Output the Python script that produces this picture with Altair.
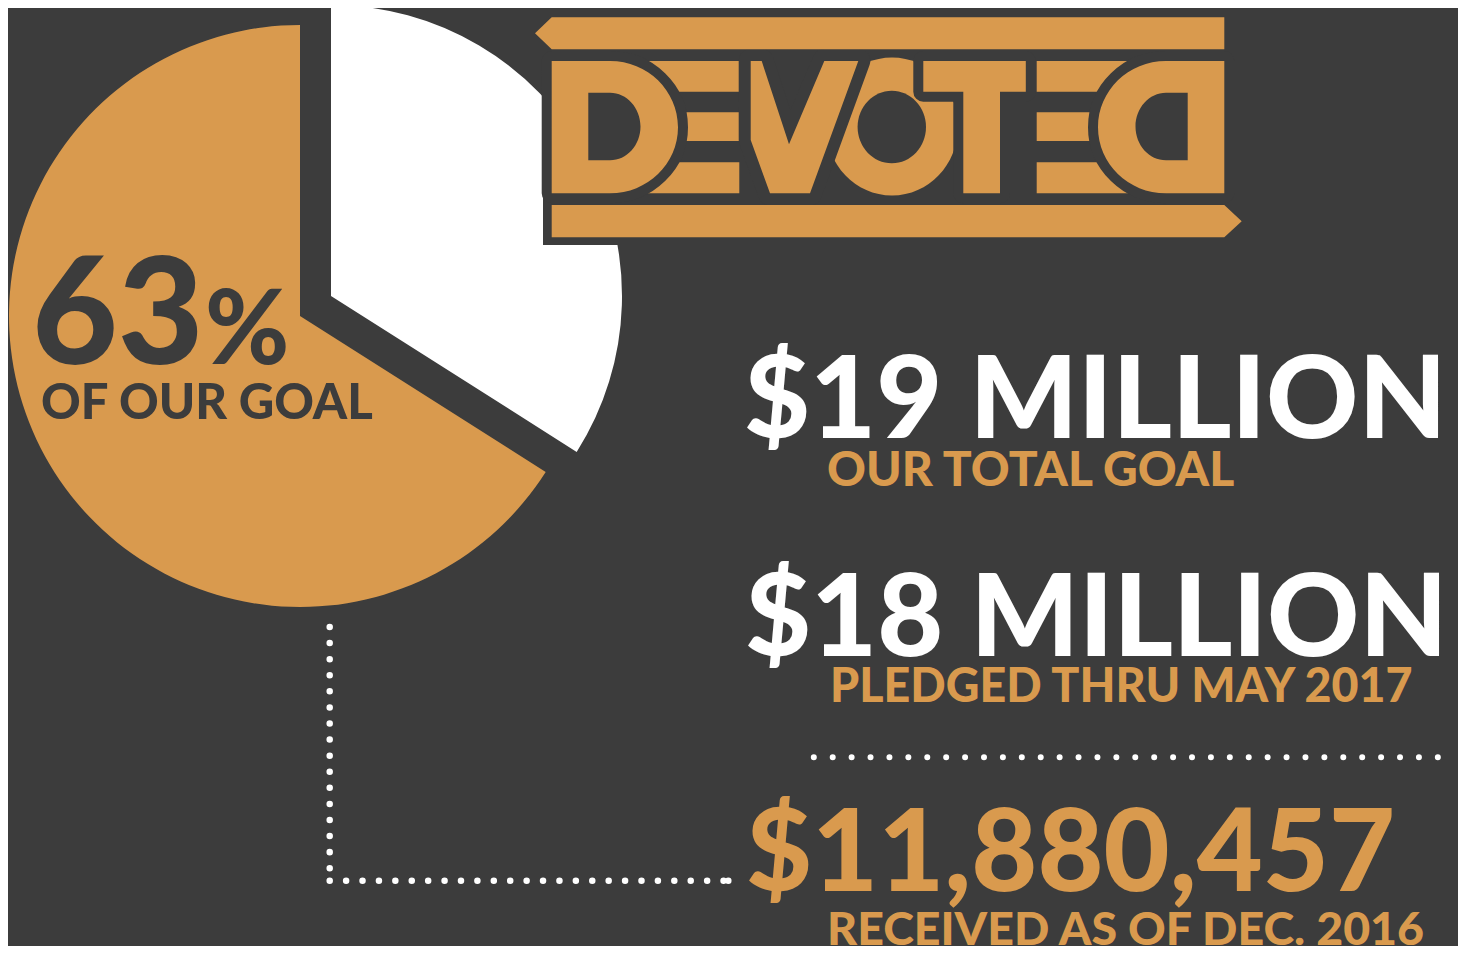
import math
import altair as alt
import pandas as pd

# ---------------- data ----------------
PIE_PARTS = ["Remaining", "Received"]
PIE_SHARES = [34, 66]            # share of the circle as drawn (%)
PIE_ORDER = [0, 1]
HEADLINE = ["63", "%", "OF OUR GOAL"]
FIGURES = ["$19 MILLION", "$18 MILLION", "$11,880,457"]
CAPTIONS = ["OUR TOTAL GOAL", "PLEDGED THRU MAY 2017", "RECEIVED AS OF DEC. 2016"]
LOGO_WORD = "DEVOTED"

# ---------------- style / layout ----------------
DARK = "#3c3c3c"
ORANGE = "#d99a4e"
WHITE = "#ffffff"
FONT = "Lato"

W, H = 1450, 938
XS = alt.Scale(domain=[8, 8 + W], nice=False, zero=False)
YS = alt.Scale(domain=[8, 8 + H], reverse=True, nice=False, zero=False)
TS = alt.Scale(domain=[0, 100], range=[0, 2 * math.pi])


def X(v):
    return alt.XDatum(v, type="quantitative", scale=XS, axis=None)


def Y(v):
    return alt.YDatum(v, type="quantitative", scale=YS, axis=None)


layers = []

# ---------------- pie (exploded) ----------------
pie_df = pd.DataFrame({"part": PIE_PARTS, "share": PIE_SHARES, "order": PIE_ORDER})
pie_base = alt.Chart(pie_df).transform_stack(
    stack="share", groupby=[], as_=["start", "end"],
    sort=[alt.SortField("order", order="ascending")],
)
PIE_LAYOUT = {"Received": (300, 316, ORANGE), "Remaining": (331, 296, WHITE)}
for part in PIE_PARTS[::-1]:
    cx, cy, col = PIE_LAYOUT[part]
    layers.append(
        pie_base.transform_filter(alt.datum.part == part)
        .mark_arc(radius=291, color=col, strokeWidth=0)
        .encode(theta=alt.Theta("start:Q", scale=TS, stack=None),
                theta2="end:Q", x=X(cx), y=Y(cy))
    )

# ---------------- logo (drawn as shapes) ----------------
LX, LY = 888.0, 127.0
K = 0.5523


def f(v):
    return f"{v:.1f}"


def poly(pts):
    s = "M" + " L".join(f"{f(x - LX)},{f(y - LY)}" for x, y in pts)
    return s + " Z"


def rect(x0, y0, x1, y1):
    return poly([(x0, y0), (x1, y0), (x1, y1), (x0, y1)])


def ellipse(cx, cy, rx, ry):
    cx -= LX
    cy -= LY
    p = [f"M{f(cx)},{f(cy - ry)}",
         f"C{f(cx + K*rx)},{f(cy - ry)} {f(cx + rx)},{f(cy - K*ry)} {f(cx + rx)},{f(cy)}",
         f"C{f(cx + rx)},{f(cy + K*ry)} {f(cx + K*rx)},{f(cy + ry)} {f(cx)},{f(cy + ry)}",
         f"C{f(cx - K*rx)},{f(cy + ry)} {f(cx - rx)},{f(cy + K*ry)} {f(cx - rx)},{f(cy)}",
         f"C{f(cx - rx)},{f(cy - K*ry)} {f(cx - K*rx)},{f(cy - ry)} {f(cx)},{f(cy - ry)}",
         "Z"]
    return " ".join(p)


def dshape(x0, xs, rx, top, bot):
    cy = (top + bot) / 2 - LY
    ry = (bot - top) / 2
    x0 -= LX
    xs -= LX
    t = top - LY
    b = bot - LY
    return (f"M{f(x0)},{f(t)} L{f(xs)},{f(t)} "
            f"C{f(xs + K*rx)},{f(t)} {f(xs + rx)},{f(cy - K*ry)} {f(xs + rx)},{f(cy)} "
            f"C{f(xs + rx)},{f(cy + K*ry)} {f(xs + K*rx)},{f(b)} {f(xs)},{f(b)} "
            f"L{f(x0)},{f(b)} Z")


def mirror(x):
    return 2 * LX - x


TOP, BOT = 61.0, 193.3
backing = rect(543, -20, 1262, 245)
bars = " ".join([
    poly([(535, 33.3), (551.7, 17.3), (1224.3, 17.3), (1224.3, 49.3), (551.7, 49.3)]),
    poly([(551.7, 205), (1224.3, 205), (1241.7, 221.2), (1224.3, 237.3), (551.7, 237.3)]),
])
ebars = []
for (y0, y1) in [(TOP, 91.7), (112.3, 141.0), (162.3, BOT)]:
    ebars.append(rect(600, y0, 739.3, y1))
    ebars.append(rect(mirror(739.3), y0, mirror(600), y1))
ebars = " ".join(ebars)
d_outer = " ".join([dshape(551.7, 610, 68, TOP, BOT),
                    dshape(mirror(551.7), mirror(610), -68, TOP, BOT)])
d_inner = " ".join([dshape(588.3, 610, 30.5, 92.7, 160.3),
                    dshape(mirror(588.3), mirror(610), -30.5, 92.7, 160.3)])
o_outer = ellipse(892, 126.5, 66, 69)
o_inner = ellipse(891.8, 127, 34.2, 36.3)
v_shape = poly([(750.7, TOP), (761.7, TOP), (789, 144.3), (824.3, TOP), (858.3, TOP),
                (810, BOT), (770, BOT), (750.7, 140)])
t_shape = poly([(923.3, TOP), (1025.8, TOP), (1025.8, 91.7), (1000, 91.7), (1000, BOT),
                (963.3, BOT), (963.3, 91.7), (923.3, 91.7)])

logo_df = pd.DataFrame({"word": [LOGO_WORD]})


def shape_layer(path, fill, stroke=None, sw=0):
    kw = dict(shape=path, size=4, filled=True, fill=fill, opacity=1, fillOpacity=1,
              description=LOGO_WORD)
    if stroke:
        kw.update(stroke=stroke, strokeWidth=sw, strokeJoin="round", strokeOpacity=1)
    else:
        kw.update(strokeWidth=0)
    return alt.Chart(logo_df).mark_point(**kw).encode(x=X(LX), y=Y(LY))


layers += [
    shape_layer(backing, DARK),
    shape_layer(ebars, ORANGE),
    shape_layer(d_outer, DARK, DARK, 20),
    shape_layer(d_outer, ORANGE),
    shape_layer(d_inner, DARK),
    shape_layer(o_outer, ORANGE),
    shape_layer(o_inner, DARK),
    shape_layer(v_shape, DARK, DARK, 24),
    shape_layer(v_shape, ORANGE),
    shape_layer(t_shape, DARK, DARK, 20),
    shape_layer(t_shape, ORANGE),
    shape_layer(bars, ORANGE),
]

# ---------------- dotted connectors ----------------
def hrule(x0, x1, y, gap, w):
    return alt.Chart(logo_df).mark_rule(color=WHITE, strokeWidth=w, strokeCap="round",
                                        strokeDash=[0.01, gap]).encode(
        x=X(x0), x2=alt.X2Datum(x1), y=Y(y))


def vrule(x, y0, y1, gap, w):
    return alt.Chart(logo_df).mark_rule(color=WHITE, strokeWidth=w, strokeCap="round",
                                        strokeDash=[0.01, gap]).encode(
        x=X(x), y=Y(y0), y2=alt.Y2Datum(y1))


layers += [
    hrule(813.8, 1438.0, 757.3, 18.9, 6),
    vrule(329.7, 627, 872, 16.07, 6.5),
    hrule(329.7, 724.0, 880.7, 16.4, 6.5),
    hrule(728.3, 728.4, 880.7, 16.4, 6.5),
]

# ---------------- texts ----------------
TEXT_LAYOUT = {
    "63": (32, 363.8, 148, DARK),
    "%": (205, 364, 102, DARK),
    "OF OUR GOAL": (41, 419, 49, DARK),
    "$19 MILLION": (744, 437.7, 114, WHITE),
    "OUR TOTAL GOAL": (827, 486, 48, ORANGE),
    "$18 MILLION": (745, 655.7, 114, WHITE),
    "PLEDGED THRU MAY 2017": (830, 702, 46.6, ORANGE),
    "$11,880,457": (746, 891, 114, ORANGE),
    "RECEIVED AS OF DEC. 2016": (827, 945, 46.5, ORANGE),
}
for label in HEADLINE + FIGURES + CAPTIONS:
    x, y, size, col = TEXT_LAYOUT[label]
    layers.append(
        alt.Chart(pd.DataFrame({"label": [label]}))
        .mark_text(align="left", baseline="alphabetic", font=FONT, fontWeight=900,
                   fontSize=size, color=col)
        .encode(x=X(x), y=Y(y), text="label:N")
    )

chart = alt.layer(*layers).properties(
    width=W, height=H, background=DARK, padding=0,
    autosize=alt.AutoSizeParams(type="none"),
).configure_view(strokeWidth=0)

chart.save("out.html", embed_options={"renderer": "svg", "actions": False})
